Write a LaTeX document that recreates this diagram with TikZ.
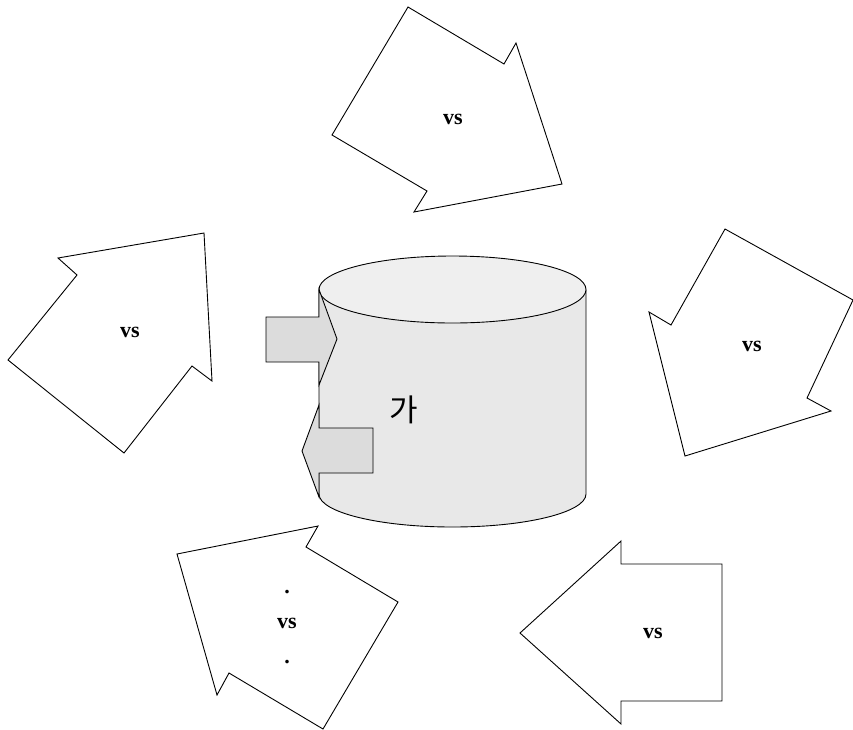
\documentclass[tikz,border=0pt]{standalone}
\usepackage{fontspec}
\setmainfont{Liberation Serif}
\newfontfamily\kr{Noto Sans CJK KR}
\definecolor{bodygray}{HTML}{E8E8E8}
\definecolor{topgray}{HTML}{EFEFEF}
\definecolor{arrgray}{HTML}{DCDCDC}
\begin{document}
\begin{tikzpicture}[x=1pt,y=-1pt,
  outline/.style={draw=black,line width=0.9pt,line join=miter},
  bigarrow/.style={outline,fill=white},
  smallarrow/.style={outline,fill=arrgray},
  vslabel/.style={font=\bfseries\fontsize{22}{35}\selectfont,align=center,inner sep=0pt}]
\useasboundingbox (0,0) rectangle (853,729);
% big arrows
\draw[bigarrow] (408,7) -- (504,64) -- (516,43) -- (562,184) -- (414,212) -- (427,191) -- (332,135) -- cycle;
\draw[bigarrow] (58,258) -- (204,233) -- (212,381) -- (192,366) -- (124,453) -- (8,360) -- (77,275) -- cycle;
\draw[bigarrow] (725,229) -- (853,300) -- (807,398) -- (831,411) -- (685,456) -- (649,312) -- (671,325) -- cycle;
\draw[bigarrow] (177,554) -- (318,526) -- (306,547) -- (398,602) -- (323,729) -- (229,673) -- (217,695) -- cycle;
\draw[bigarrow] (621,541) -- (621,564) -- (722,564) -- (722,701) -- (621,701) -- (621,724) -- (520,633) -- cycle;
% cylinder
\fill[bodygray] (319,289.5) -- (319,494) arc[start angle=180,end angle=0,x radius=133.5,y radius=33] -- (586,289.5) -- cycle;
\draw[outline] (319,289.5) -- (319,494) arc[start angle=180,end angle=0,x radius=133.5,y radius=33] -- (586,289.5);
\draw[outline,fill=topgray] (452.5,289.5) ellipse[x radius=133.5,y radius=33.5];
% small arrows
\draw[smallarrow] (266,317) -- (319,317) -- (319,289.5) -- (337,339) -- (319,385) -- (319,362) -- (266,362) -- cycle;
\draw[smallarrow] (373,428) -- (319,428) -- (319,405) -- (302,451) -- (319,497) -- (319,473) -- (373,473) -- cycle;
% labels
\node[font=\kr\fontsize{31}{31}\selectfont,inner sep=0pt] (ga) at (404,410) {가};
\node[vslabel] (vtop) at (453,119) {vs};
\node[vslabel] (vleft) at (130,332) {vs};
\node[vslabel] (vright) at (752,346) {vs};
\node[vslabel] (vbr) at (653,633) {vs};
\node[vslabel] (vbl) at (287,627) {.\\vs\\.};
\end{tikzpicture}
\end{document}
